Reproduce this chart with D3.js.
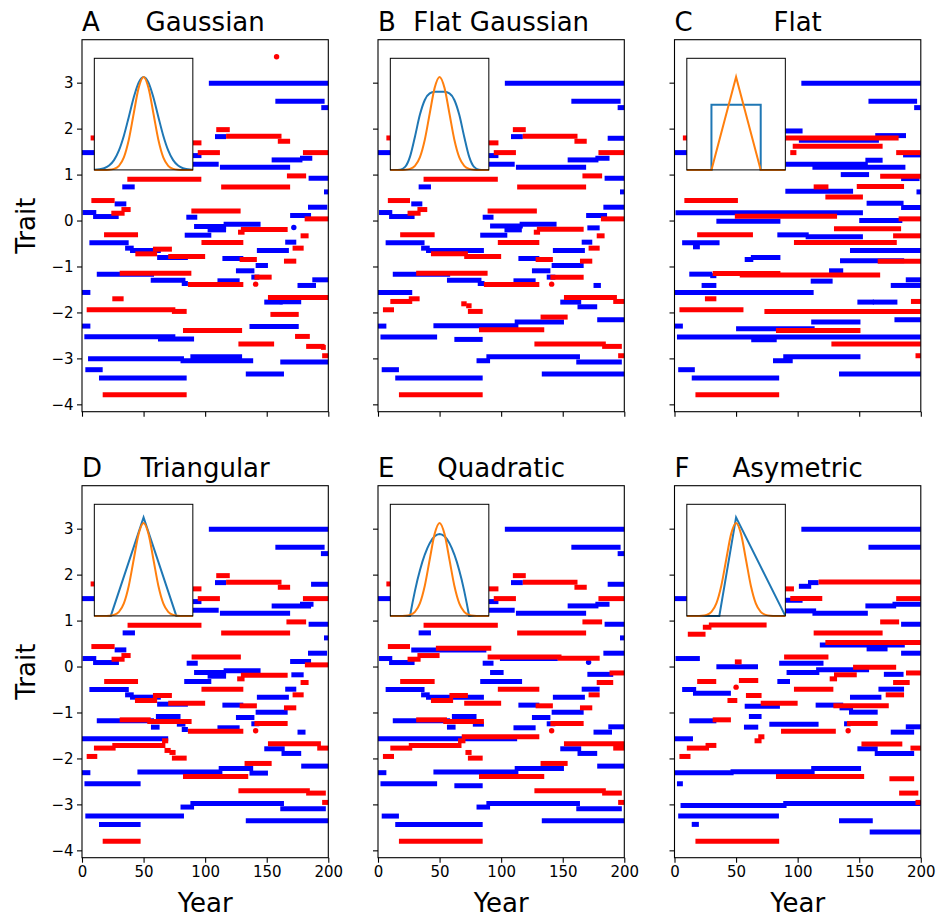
<!DOCTYPE html>
<html><head><meta charset="utf-8">
<script src="https://cdn.jsdelivr.net/npm/d3@7"></script>
<style>body{margin:0;background:#fff}</style>
</head><body><svg id="c" width="939" height="918"></svg>
<script>
// ---------- data ----------
const letters = ["A","B","C","D","E","F"];
const names = ["Gaussian","Flat Gaussian","Flat","Triangular","Quadratic","Asymetric"];
const xTicks = [0,50,100,150,200];
const yTicks = [-4,-3,-2,-1,0,1,2,3];
// segments: [startYear, endYear, trait]
const blueA = [[103,200,2.985],[157,197,2.594],[194.3,200,2.457],[108,117,1.826],[0,12,1.478],[90,97,1.413],[154,179,1.319],[177,187,1.355],[90,111,1.225],[112,169,1.159],[184,200,0.92],[32.7,42.8,0.732],[196.5,200,0.623],[26.5,36,0.362],[0.5,11.6,0.174],[9,29.8,0.087],[84.7,93.6,0.072],[183.5,199.2,0.29],[169,186,0.109],[172,172,-0.152],[91,117,-0.13],[102,117,-0.203],[115,145,-0.08],[83.4,105,-0.319],[6,37.9,-0.486],[165,174,-0.471],[35,42,-0.601],[39,64,-0.652],[142,168,-0.652],[61,86,-0.804],[114,131,-0.826],[141,151,-0.978],[12,58.5,-1.167],[125,140,-1.094],[137.5,144,-1.232],[55.8,84,-1.297],[110,128,-1.312],[81,86,-1.37],[187,200,-1.29],[175,190,-1.413],[0,6.8,-1.565],[148,163,-1.775],[160.5,178,-1.768],[0,6.8,-2.297],[136,176,-2.304],[1.9,75.8,-2.529],[61.7,91,-2.58],[4.9,82.8,-3.007],[88,130,-2.964],[80,139,-3.051],[161,200,-3.08],[2.7,16.8,-3.246],[13.8,85,-3.428],[133,164,-3.341]];
const redA = [[158,158,3.565],[109,120,1.978],[117,162,1.833],[159,169,1.725],[7,20,1.797],[90,97,1.69],[94,112,1.478],[179.4,200,1.478],[36.8,96.9,0.899],[166.4,182,0.971],[113,169,0.732],[7.6,26.5,0.435],[32,39.5,0.239],[23.8,34.6,0.159],[88.8,128.8,0.21],[180.8,200,0.036],[129,167,-0.196],[126.7,132,-0.254],[17.9,45.5,-0.312],[177.5,184,-0.333],[97,131,-0.478],[57.6,73,-0.623],[43.3,61,-0.725],[171,180,-0.601],[70,100,-0.783],[128,142,-0.848],[164,174,-0.884],[30.6,88.8,-1.145],[140,154,-1.232],[86,131,-1.391],[141,141,-1.384],[24.6,33.8,-1.703],[151,200,-1.674],[3.8,75.8,-1.942],[73,85,-1.978],[153,176,-2.043],[82,130,-2.391],[173,185,-2.522],[127,156,-2.688],[182,197,-2.739],[194,198,-2.76],[195,200,-2.942],[16.8,85,-3.79]];
const blueB = [[103,200,2.985],[157,197,2.594],[194.6,200,2.457],[108,117.6,1.826],[186.5,200,1.79],[0,12,1.478],[89,97.8,1.413],[154,179,1.319],[176.5,188,1.355],[90,111,1.225],[112,169,1.159],[184,200,0.92],[33,43,0.732],[196.5,200,0.623],[27,36,0.362],[0.8,11.6,0.174],[9,29.7,0.087],[85,93.8,0.072],[183,200,0.29],[169,186,0.109],[170,180,-0.16],[91,117.6,-0.12],[115,145,-0.08],[102.7,116.8,-0.203],[83,105,-0.319],[6.2,37.8,-0.486],[165.4,174,-0.471],[35,42,-0.601],[39,86,-0.652],[142,168,-0.652],[114,131,-0.826],[141,167,-0.978],[12,58.6,-1.167],[125,140,-1.094],[137,144,-1.232],[56,84,-1.297],[81,86.5,-1.37],[110,128,-1.312],[175,181,-1.413],[0,27.8,-1.565],[148,165,-1.775],[162,178,-1.877],[178,200,-2.159],[111,151,-2.21],[45,114,-2.29],[0,6.8,-2.297],[2,48,-2.536],[62,85,-2.587],[88,164,-2.964],[80,91,-3.051],[161,198,-3.08],[3,17,-3.246],[14,85,-3.428],[133,200,-3.341]];
const redB = [[109.5,120,1.978],[117.6,162,1.833],[159.5,169.5,1.725],[6.8,20,1.797],[89,97.8,1.69],[94,112,1.478],[179,200,1.478],[37,97.3,0.899],[166,182,0.971],[113,169,0.732],[8,26,0.435],[32,40,0.239],[24,34.6,0.159],[89,129,0.21],[181,200,0.036],[129,167,-0.19],[126.5,131.6,-0.254],[18,46,-0.312],[177.6,184,-0.333],[97.3,131,-0.478],[43,73,-0.725],[70,100,-0.783],[171,180,-0.601],[128,142,-0.848],[164,174,-0.884],[31,89,-1.145],[140,167,-1.232],[86,131,-1.391],[141,141,-1.384],[10,27.8,-1.761],[25,33.8,-1.703],[4,13,-1.942],[67.6,72,-1.812],[71.6,76,-1.855],[73,85,-1.978],[151,194,-1.674],[191,200,-1.761],[132,154,-2.101],[82,135,-2.377],[127,185,-2.688],[182,198,-2.739],[195,200,-2.942],[17,85,-3.79]];
const blueC = [[103,200,2.985],[157.5,197,2.594],[194.6,200,2.457],[89,104,1.949],[163,188,1.848],[101,166,1.746],[0,12,1.478],[185.6,200,1.428],[155,169,1.312],[90,157,1.225],[112,187.5,1.159],[135,158,1.0],[184,199,0.913],[90,145,0.638],[196.5,200,0.623],[156,186,0.377],[184,200,0.283],[0.8,153,0.167],[34,86,-0.014],[150,185,0.0],[83.5,109,-0.312],[106.5,153,-0.355],[6.2,36.6,-0.486],[15,20.6,-0.572],[142.5,200,-0.652],[62,86,-0.804],[57,64,-0.848],[134.4,186.5,-0.877],[125.5,137,-1.094],[12,30.6,-1.167],[29,34,-1.2],[110.6,128.4,-1.319],[187.8,200,-1.29],[175.6,200,-1.413],[22,34,-1.413],[0,113,-1.565],[148.5,162,-1.775],[161,181,-1.775],[0,6.8,-2.297],[111,151,-2.21],[178.6,200,-2.159],[50,113.8,-2.355],[2,200,-2.536],[62.3,83,-2.594],[88.3,151,-2.964],[80,96,-3.051],[3,16.5,-3.246],[14,85,-3.428],[133.6,200,-3.341]];
const redC = [[6.8,20,1.797],[89,182,1.797],[96,169,1.616],[94,99,1.478],[180,200,1.478],[167,200,0.964],[113,125,0.732],[148,186.4,0.739],[122.5,153,0.514],[8,51.5,0.435],[49,132,0.094],[182,200,0.036],[129.5,184,-0.18],[18.4,63.7,-0.312],[177.5,200,-0.333],[97,180.5,-0.478],[165,200,-0.884],[31,86,-1.152],[53,167,-1.188],[24.7,34,-1.703],[192,200,-1.761],[4,56,-1.942],[73,200,-1.978],[82.4,151,-2.391],[127.4,200,-2.688],[195.7,200,-2.942],[17,85,-3.79]];
const blueD = [[103,200,2.985],[157,197,2.594],[194,200,2.457],[108,117,1.826],[186,200,1.79],[0,12,1.478],[90,97,1.413],[154,186,1.319],[177,188,1.355],[90,111,1.225],[112,169,1.159],[184,200,0.92],[33,43,0.732],[196.5,200,0.623],[26.5,36,0.362],[0.5,11.6,0.174],[9,30,0.087],[85,94,0.072],[183.5,199,0.29],[169,186,0.109],[91,117,-0.13],[115,145,-0.09],[102,117,-0.21],[170,180,-0.18],[83,105,-0.326],[6,38,-0.5],[165,174,-0.493],[35,42,-0.616],[39,64,-0.667],[142,168,-0.667],[61,86,-0.819],[114,131,-0.84],[141,167,-0.993],[12,58.5,-1.181],[60,80,-1.087],[56,63,-1.319],[77,84,-1.254],[81,86,-1.37],[125,140,-1.109],[137.5,144,-1.246],[110,128,-1.333],[175,181.5,-1.428],[0,70,-1.572],[148,164.6,-1.79],[162,178,-1.891],[178,200,-2.167],[111,139,-2.217],[136,151,-2.319],[45,114,-2.297],[0,6.8,-2.31],[2,47.6,-2.551],[88,164,-2.978],[80,91,-3.058],[161,198,-3.094],[2.7,82.8,-3.254],[13.8,47.6,-3.435],[133,200,-3.355]];
const redD = [[109,120,1.978],[117,162,1.833],[159,169,1.725],[7,20,1.797],[90,97,1.69],[94,112,1.478],[179.4,200,1.478],[37,97,0.899],[166,182,0.971],[113,169,0.732],[7.6,26.5,0.435],[32,39.5,0.239],[24,34.6,0.159],[89,129,0.21],[181,200,0.036],[129,167,-0.19],[126,132,-0.268],[18,45.5,-0.326],[177.5,184,-0.348],[97,131,-0.493],[57.6,73,-0.63],[43,61,-0.739],[171,180,-0.616],[70,100,-0.797],[128,142,-0.855],[164,174,-0.899],[30.6,55.8,-1.16],[53,89,-1.196],[140,167,-1.239],[86,131,-1.406],[141,141,-1.399],[65,70,-1.616],[24.6,67.7,-1.717],[9.7,27.3,-1.775],[67,72,-1.826],[71,76,-1.87],[3.8,12.4,-1.957],[73,85,-1.993],[151,194,-1.681],[191,200,-1.775],[132,154,-2.109],[82,135,-2.391],[127,185,-2.703],[182,198,-2.754],[195,200,-2.957],[16.8,47.6,-3.804]];
const blueE = [[103,200,2.985],[157,197,2.594],[194.6,200,2.457],[108,117.6,1.826],[186.5,200,1.79],[0,12,1.478],[89,97.8,1.413],[154,179,1.319],[176.5,188,1.355],[90,111,1.225],[112,169,1.159],[184,200,0.92],[33,43,0.732],[196.5,200,0.623],[27,88,0.362],[0.8,11.6,0.174],[9,29.7,0.087],[99,146,0.174],[171,171,0.094],[85,93.8,0.072],[183,200,0.29],[91,102,-0.13],[170,191,-0.17],[83,117,-0.326],[6.2,37.8,-0.5],[165.4,180,-0.493],[35,42,-0.616],[39,86,-0.667],[142,168,-0.667],[114,131,-0.84],[141,167,-0.993],[12,58.6,-1.181],[60,80,-1.087],[56,63,-1.319],[77,86,-1.254],[125,140,-1.109],[137,144,-1.246],[110,128,-1.333],[175,190,-1.428],[187,200,-1.312],[0,113,-1.572],[148,165,-1.79],[162,178,-1.891],[178,200,-2.167],[111,151,-2.217],[45,114,-2.297],[0,6.8,-2.31],[2,48,-2.551],[62,85,-2.594],[88,164,-2.978],[80,91,-3.058],[161,198,-3.094],[3,17,-3.254],[14,85,-3.435],[133,200,-3.355]];
const redE = [[109.5,120,1.978],[117.6,162,1.833],[159.5,169.5,1.725],[6.8,20,1.797],[89,97.8,1.69],[94,112,1.478],[179,200,1.478],[37,97.3,0.899],[166,182,0.971],[113,169,0.732],[8,26,0.435],[47,92,0.399],[32,50,0.239],[24,34.6,0.159],[89,149,0.21],[146,180,0.181],[188,200,-0.14],[18,46,-0.326],[177.6,191,-0.348],[97.3,131,-0.493],[58,73,-0.63],[43,61,-0.739],[70,100,-0.797],[171,180,-0.616],[128,142,-0.855],[164,174,-0.899],[31,56,-1.16],[53,86,-1.196],[140,167,-1.239],[141,141,-1.399],[68,131,-1.529],[65,71,-1.616],[25,67.8,-1.717],[10,27.8,-1.775],[71,76,-1.87],[4,13,-1.957],[73,85,-1.993],[151,200,-1.681],[191,200,-1.775],[132,154,-2.109],[82,135,-2.391],[127,185,-2.703],[182,198,-2.754],[195,200,-2.957],[17,85,-3.804]];
const blueF = [[103,200,2.985],[157.5,200,2.594],[101,111,1.746],[108.4,117,1.826],[0,12,1.478],[89,104,1.442],[155,180,1.319],[177,200,1.355],[90,115,1.21],[112,157,1.159],[184,200,0.92],[118,187,0.471],[156,173,0.384],[184,200,0.29],[0.8,20.6,0.174],[85,121,0.072],[34,67.8,-0.007],[91,117.6,-0.13],[115,158,-0.072],[170,186,-0.17],[83.5,93.8,-0.326],[6.2,17.6,-0.5],[15,45.8,-0.58],[165.6,186.4,-0.493],[142.5,168,-0.667],[57,85.6,-0.862],[114.6,137,-0.84],[134,145,-0.899],[141.7,165,-0.993],[12,34,-1.181],[60.4,70.7,-1.087],[56.4,68,-1.319],[77,117,-1.254],[137.7,143,-1.246],[175.6,194.6,-1.428],[187.8,200,-1.312],[0,15,-1.572],[148.5,165,-1.79],[162.6,194.6,-1.891],[0,48,-2.31],[45.5,113.8,-2.29],[111,151.5,-2.217],[2,6.8,-2.551],[4.9,91,-3.022],[88.3,200,-2.978],[3,84.8,-3.254],[14,19.8,-3.435],[133.6,161,-3.355],[158.5,200,-3.601]];
const redF = [[117,200,1.84],[89,97,1.69],[94,120,1.478],[180,200,1.478],[23,30,0.855],[27.9,74.8,0.906],[10.8,25.2,0.703],[167,182.4,0.971],[113,169,0.732],[122.5,200,0.522],[89,125,0.21],[49,54.5,0.101],[145,180,-0.014],[129.5,148,-0.18],[126,132,-0.268],[188,200,-0.14],[18.4,33.9,-0.326],[52.3,68,-0.304],[50,50,-0.449],[177.5,191,-0.348],[97,129,-0.493],[58,70.7,-0.63],[43,51,-0.739],[171.5,186.4,-0.616],[70,100,-0.797],[129,174,-0.855],[31,45.8,-1.16],[140,165,-1.239],[86.5,131,-1.406],[141,141,-1.399],[68,73,-1.529],[65,70.7,-1.616],[25.2,34,-1.717],[10,28,-1.775],[4,13,-1.957],[151.8,185,-1.688],[191.6,200,-1.775],[82.4,154,-2.391],[174.5,194.6,-2.442],[182.4,198,-2.754],[195.7,200,-2.957],[17,85,-3.804]];

// inset kernels: [x, density]
const kGaussNarrow = [[-1,0],[-0.9,0],[-0.8,0],[-0.7,0.002],[-0.6,0.011],[-0.5,0.044],[-0.4,0.135],[-0.3,0.325],[-0.2,0.607],[-0.1,0.882],[0,1],[0.1,0.882],[0.2,0.607],[0.3,0.325],[0.4,0.135],[0.5,0.044],[0.6,0.011],[0.7,0.002],[0.8,0],[0.9,0],[1,0]];
const kGaussWide = [[-1,0.002],[-0.9,0.006],[-0.8,0.018],[-0.7,0.047],[-0.6,0.105],[-0.5,0.21],[-0.4,0.368],[-0.3,0.57],[-0.2,0.779],[-0.1,0.939],[0,1],[0.1,0.939],[0.2,0.779],[0.3,0.57],[0.4,0.368],[0.5,0.21],[0.6,0.105],[0.7,0.047],[0.8,0.018],[0.9,0.006],[1,0.002]];
const kFlatGauss = [[-1,0],[-0.9,0],[-0.8,0.003],[-0.7,0.032],[-0.6,0.143],[-0.5,0.357],[-0.4,0.592],[-0.3,0.752],[-0.2,0.822],[-0.1,0.839],[0,0.84],[0.1,0.839],[0.2,0.822],[0.3,0.752],[0.4,0.592],[0.5,0.357],[0.6,0.143],[0.7,0.032],[0.8,0.003],[0.9,0],[1,0]];
const kTriNarrow = [[-1,0],[-0.5,0],[0,1],[0.5,0],[1,0]];
const kRect = [[-1,0],[-0.5,0],[-0.5,0.7],[0.5,0.7],[0.5,0],[1,0]];
const kTriWide = [[-1,0],[-0.665,0],[0,1.06],[0.665,0],[1,0]];
const kQuad = [[-1,0],[-0.6,0],[-0.55,0.14],[-0.5,0.269],[-0.45,0.385],[-0.4,0.489],[-0.35,0.581],[-0.3,0.66],[-0.25,0.727],[-0.2,0.782],[-0.15,0.825],[-0.1,0.856],[-0.05,0.874],[0,0.88],[0.05,0.874],[0.1,0.856],[0.15,0.825],[0.2,0.782],[0.25,0.727],[0.3,0.66],[0.35,0.581],[0.4,0.489],[0.45,0.385],[0.5,0.269],[0.55,0.14],[0.6,0],[1,0]];
const kAsym = [[-1,0],[-0.34,0],[0,1.06],[1,0]];

// ---------- layout ----------
const panels = [
  {blue: blueA, red: redA, kb: kGaussWide, kbSmooth: true, ko: kGaussNarrow, koSmooth: true},
  {blue: blueB, red: redB, kb: kFlatGauss, kbSmooth: true, ko: kGaussNarrow, koSmooth: true},
  {blue: blueC, red: redC, kb: kRect, kbSmooth: false, ko: kTriNarrow, koSmooth: false},
  {blue: blueD, red: redD, kb: kTriWide, kbSmooth: false, ko: kGaussNarrow, koSmooth: true},
  {blue: blueE, red: redE, kb: kQuad, kbSmooth: false, ko: kGaussNarrow, koSmooth: true},
  {blue: blueF, red: redF, kb: kAsym, kbSmooth: false, ko: kGaussNarrow, koSmooth: true}
];
const lefts = [82, 378, 674.5], tops = [39.7, 485.7];
const W = 246.3, H = 372;
const FONT = "DejaVu Sans, Liberation Sans, sans-serif";
const svg = d3.select("#c");

panels.forEach((p, i) => {
  const col = i % 3, row = Math.floor(i / 3);
  const g = svg.append("g").attr("transform", `translate(${lefts[col]},${tops[row]})`);
  const x = d3.scaleLinear().domain([0, 200]).range([0, W]);
  const y = d3.scaleLinear().domain([-4.16, 3.935]).range([H, 0]);

  const segs = g.append("g");
  [[p.blue, "#0000ff"], [p.red, "#ff0000"]].forEach(([arr, c]) => {
    segs.selectAll(null).data(arr.filter(d => d[0] !== d[1])).join("line")
      .attr("x1", d => x(d[0])).attr("x2", d => x(d[1]))
      .attr("y1", d => y(d[2])).attr("y2", d => y(d[2]))
      .attr("stroke", c).attr("stroke-width", 5).attr("stroke-linecap", "butt");
    segs.selectAll(null).data(arr.filter(d => d[0] === d[1])).join("circle")
      .attr("cx", d => x(d[0])).attr("cy", d => y(d[2])).attr("r", 2.7).attr("fill", c);
  });

  // inset
  const iw = W * 0.4, ih = H * 0.3;
  const ig = g.append("g").attr("transform", `translate(${W * 0.05},${H * 0.05})`);
  ig.append("rect").attr("width", iw).attr("height", ih).attr("fill", "#fff");
  const ix = d3.scaleLinear().domain([-1, 1]).range([0, iw]);
  const iy = d3.scaleLinear().domain([0, 1.2]).range([ih, 0]);
  const mk = smooth => d3.line().x(d => ix(d[0])).y(d => iy(d[1])).curve(smooth ? d3.curveMonotoneX : d3.curveLinear);
  ig.append("path").attr("d", mk(p.kbSmooth)(p.kb)).attr("fill", "none").attr("stroke", "#1f77b4").attr("stroke-width", 2);
  ig.append("path").attr("d", mk(p.koSmooth)(p.ko)).attr("fill", "none").attr("stroke", "#ff7f0e").attr("stroke-width", 2);
  ig.append("rect").attr("width", iw).attr("height", ih).attr("fill", "none").attr("stroke", "#000").attr("stroke-width", 1);

  // axes
  const xa = g.append("g").attr("transform", `translate(0,${H})`)
    .call(d3.axisBottom(x).tickValues(xTicks).tickSize(5).tickPadding(3.5).tickFormat(row === 1 ? d3.format("d") : ""));
  const ya = g.append("g")
    .call(d3.axisLeft(y).tickValues(yTicks).tickSize(5).tickPadding(3.5).tickFormat(col === 0 ? d3.format("d") : ""));
  [xa, ya].forEach(a => {
    a.select(".domain").remove();
    a.selectAll(".tick line").attr("stroke", "#000").attr("stroke-width", 1.1);
    a.selectAll(".tick text").attr("font-family", FONT).attr("font-size", 15).attr("fill", "#000");
  });
  g.append("rect").attr("width", W).attr("height", H).attr("fill", "none").attr("stroke", "#000").attr("stroke-width", 1.1);

  // titles
  g.append("text").attr("x", 0).attr("y", -9).attr("font-family", FONT).attr("font-size", 26).text(letters[i]);
  g.append("text").attr("x", W / 2).attr("y", -9).attr("text-anchor", "middle").attr("font-family", FONT).attr("font-size", 26).text(names[i]);
  if (row === 1) g.append("text").attr("x", W / 2).attr("y", H + 54).attr("text-anchor", "middle").attr("font-family", FONT).attr("font-size", 26).text("Year");
  if (col === 0) g.append("text").attr("transform", `translate(${-47},${H / 2}) rotate(-90)`).attr("text-anchor", "middle").attr("font-family", FONT).attr("font-size", 26).text("Trait");
});
</script></body></html>
